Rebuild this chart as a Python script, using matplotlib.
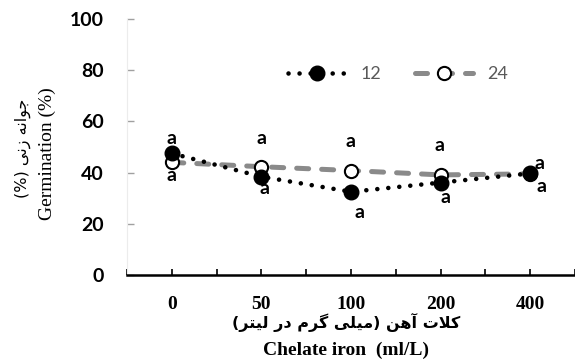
import matplotlib

matplotlib.use("Agg")
import matplotlib.pyplot as plt
from matplotlib.ticker import FixedLocator

# data
doses = ["0", "50", "100", "200", "400"]
series_names = ["12", "24"]
germ_12 = [47.5, 38.4, 32.5, 36.1, 39.7]
germ_24 = [44.0, 42.3, 40.8, 39.1, 39.5]
# significance letters: (x position in category units, y value, text)
letters_x = [0.0, 0.0, 1.0, 1.04, 2.0, 2.09, 2.99, 3.06, 4.1, 4.13]
letters_y = [53.5, 38.7, 53.5, 33.6, 52.0, 24.6, 50.4, 30.1, 43.4, 34.4]
letters_txt = ["a"] * 10

ylabel_fa = "جوانه زنی (%)"
xlabel_fa = "کلات آهن (میلی گرم در لیتر)"

# tiny persian shaper (matplotlib has no complex text layout)
FORMS = {
    "ا": ("\uFE8D", "\uFE8E", None, None),
    "آ": ("\uFE81", "\uFE82", None, None),
    "ت": ("\uFE95", "\uFE96", "\uFE97", "\uFE98"),
    "ج": ("\uFE9D", "\uFE9E", "\uFE9F", "\uFEA0"),
    "د": ("\uFEA9", "\uFEAA", None, None),
    "ر": ("\uFEAD", "\uFEAE", None, None),
    "ز": ("\uFEAF", "\uFEB0", None, None),
    "ل": ("\uFEDD", "\uFEDE", "\uFEDF", "\uFEE0"),
    "م": ("\uFEE1", "\uFEE2", "\uFEE3", "\uFEE4"),
    "ن": ("\uFEE5", "\uFEE6", "\uFEE7", "\uFEE8"),
    "ه": ("\uFEE9", "\uFEEA", "\uFEEB", "\uFEEC"),
    "و": ("\uFEED", "\uFEEE", None, None),
    "ی": ("\uFBFC", "\uFBFD", "\uFBFE", "\uFBFF"),
    "ک": ("\uFB8E", "\uFB8F", "\uFB90", "\uFB91"),
    "گ": ("\uFB92", "\uFB93", "\uFB94", "\uFB95"),
    "\uFEFB": ("\uFEFB", "\uFEFC", None, None),  # lam-alef
}


def shape_fa(text):
    text = text.replace("لا", "\uFEFB")
    out = []
    for i, ch in enumerate(text):
        if ch not in FORMS:
            out.append(ch)
            continue
        prev = text[i - 1] if i > 0 else ""
        nxt = text[i + 1] if i + 1 < len(text) else ""
        f = FORMS[ch]
        jp = prev in FORMS and FORMS[prev][2] is not None
        jn = nxt in FORMS and f[2] is not None
        if jp and jn:
            out.append(f[3])
        elif jp:
            out.append(f[1])
        elif jn:
            out.append(f[2])
        else:
            out.append(f[0])
    vis = "".join(reversed(out))
    return vis.translate(str.maketrans("()", ")("))


fig = plt.figure(figsize=(5.75, 3.6), dpi=100)
ax = fig.add_axes([127 / 575, 1 - 275 / 360, 1 - 127 / 575, (275 - 19) / 360])

x = list(range(len(doses)))
ax.plot(x, germ_12, color="black", lw=3.3, linestyle=(0, (0.01, 2.4)),
        dash_capstyle="round", marker="o", ms=10.5, mfc="black", mec="black",
        label=series_names[0], zorder=4)
ax.plot(x, germ_24, color="#8a8a8a", lw=3.6, linestyle=(0, (2.4, 2.6)),
        dash_capstyle="round", marker="o", ms=9.5, mfc="white", mec="black",
        mew=1.5, label=series_names[1], zorder=3)

for lx, ly, t in zip(letters_x, letters_y, letters_txt):
    ax.text(lx, ly, t, ha="center", va="center", fontsize=14,
            fontweight="bold", family="Lato", zorder=5)

ax.set_xlim(-0.5, 4.5)
ax.set_ylim(0, 100)

ax.set_xticks(x)
ax.set_xticklabels(doses, family="Liberation Serif", fontweight="bold", fontsize=14)
ax.xaxis.set_minor_locator(FixedLocator([-0.5, 0.5, 1.5, 2.5, 3.5, 4.5]))
ax.tick_params(axis="x", which="both", direction="in", length=4, width=1.2,
               color="black", pad=15)

ax.set_yticks([0, 20, 40, 60, 80, 100])
ax.set_yticklabels(["0", "20", "40", "60", "80", "100"], family="Lato",
                   fontweight="bold", fontsize=14)
ax.tick_params(axis="y", direction="in", length=5, width=1, color="#a0a0a0",
               pad=17)

for s in ["top", "right"]:
    ax.spines[s].set_visible(False)
ax.spines["left"].set_color("#ececec")
ax.spines["left"].set_linewidth(0.8)
ax.spines["bottom"].set_linewidth(1.8)

# axis titles
fig.text(47 / 575, 1 - 154 / 360, "Germination (%)", rotation=90, ha="center",
         va="center", family="Liberation Serif", fontsize=14)
fig.text(23 / 575, 1 - 148 / 360, shape_fa(ylabel_fa), rotation=90, ha="center",
         va="center", family="DejaVu Sans", fontsize=11.5)
fig.text(346 / 575, 1 - 322 / 360, shape_fa(xlabel_fa), ha="center", va="center",
         family="DejaVu Sans", fontweight="bold", fontsize=11.5)
fig.text(346 / 575, 1 - 350 / 360, "Chelate iron  (ml/L)", ha="center",
         va="center", family="Liberation Serif", fontweight="bold", fontsize=14)

leg = ax.legend(loc="center left", bbox_to_anchor=(288 / 575, 1 - 74 / 360),
                bbox_transform=fig.transFigure, ncol=2, frameon=False,
                borderpad=0, borderaxespad=0, handlelength=3.2,
                handletextpad=0.8, columnspacing=1.9,
                prop={"family": "Lato", "size": 13})
for t in leg.get_texts():
    t.set_color("#595959")

fig.savefig("out.png", dpi=100)
